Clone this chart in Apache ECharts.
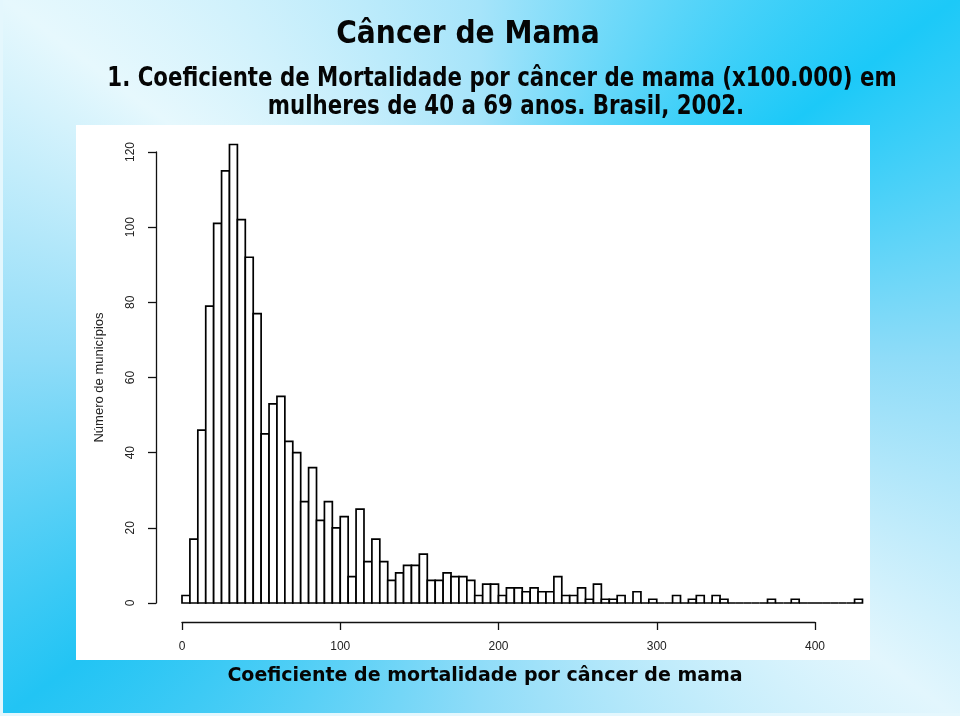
<!DOCTYPE html>
<html>
<head>
<meta charset="utf-8">
<script src="https://cdn.jsdelivr.net/npm/echarts@6/dist/echarts.min.js"></script>
<style>
html,body{margin:0;padding:0;}
#bg{position:absolute;left:0;top:0;width:960px;height:716px;
background:conic-gradient(from 0deg at 50% 50%, #a6e4fa 0deg, #1cc9f8 53deg, #8fdcf8 90deg, #e2f6fd 127deg, #8fdcf8 180deg, #22c4f4 233deg, #8fdcf8 270deg, #e6f8fd 307deg, #a6e4fa 360deg);}
#chart{position:absolute;left:0;top:0;width:960px;height:716px;}
</style>
</head>
<body>
<div id="bg"></div>
<div id="chart"></div>
<script>
// ---- data ----
const binWidth = 5;
const binStarts = [0,5,10,15,20,25,30,35,40,45,50,55,60,65,70,75,80,85,90,95,
  100,105,110,115,120,125,130,135,140,145,150,155,160,165,170,175,180,185,190,195,
  200,205,210,215,220,225,230,235,240,245,250,255,260,265,270,275,280,285,290,295,
  300,305,310,315,320,325,330,335,340,345,350,355,360,365,370,375,380,385,390,395,
  400,405,410,415,420,425];
const counts = [2,17,46,79,101,115,122,102,92,77,
  45,53,55,43,40,27,36,22,27,20,
  23,7,25,11,17,11,6,8,10,10,
  13,6,6,8,7,7,6,2,5,5,
  2,4,4,3,4,3,3,7,2,2,
  4,1,5,1,1,2,0,3,0,1,
  0,0,2,0,1,2,0,2,1,0,
  0,0,0,0,1,0,0,1,0,0,
  0,0,0,0,0,1];
const xTicks = [0,100,200,300,400];
const yTicks = [0,20,40,60,80,100,120];

const titleText = 'Câncer de Mama';
const subtitle1 = '1. Coeficiente de Mortalidade por câncer de mama (x100.000) em';
const subtitle2 = 'mulheres de 40 a 69 anos. Brasil, 2002.';
const xAxisTitle = 'Coeficiente de mortalidade por câncer de mama';
const yAxisTitle = 'Número de municípios';

const chart = echarts.init(document.getElementById('chart'), null, {renderer:'canvas'});
const histData = binStarts.map((s,i)=>[s, s+binWidth, counts[i]]);

const headStyle = (txt, size) => ({
  text: txt, x: 0, y: 0, align: 'center', verticalAlign: 'middle',
  font: 'bold ' + size + 'px "DejaVu Sans", Verdana, sans-serif',
  fill: '#050505', textShadowColor: '#ffffff', textShadowOffsetX: 2, textShadowOffsetY: 2, textShadowBlur: 0
});

chart.setOption({
  animation: false,
  backgroundColor: 'transparent',
  graphic: [
    {type:'rect', z:-10, shape:{x:76,y:125,width:794,height:535}, style:{fill:'#ffffff'}},
    {type:'rect', z:-10, shape:{x:0,y:0,width:3,height:716}, style:{fill:'#e4f7fd'}},
    {type:'rect', z:-10, shape:{x:0,y:713,width:960,height:3}, style:{fill:'#e4f7fd'}},
    {type:'text', x:468, y:35, scaleX:0.88, style: headStyle(titleText, 32)},
    {type:'text', x:502, y:79, scaleX:0.82, style: headStyle(subtitle1, 26)},
    {type:'text', x:506, y:107, scaleX:0.82, style: headStyle(subtitle2, 26)},
    {type:'text', x:485, y:676, scaleX:1, style: headStyle(xAxisTitle, 19)}
  ],
  grid: {left:182, right:145, top:152, bottom:113, outerBoundsMode:'none'},
  xAxis: {
    type:'value', min: xTicks[0], max: xTicks[xTicks.length-1], interval: xTicks[1]-xTicks[0],
    position:'bottom', offset: 19,
    axisLine:{show:true, onZero:false, lineStyle:{color:'#111', width:1.3}},
    axisTick:{show:true, length:8, lineStyle:{color:'#111', width:1.3}},
    axisLabel:{margin:19, color:'#222', fontSize:12, fontFamily:'"Liberation Sans", Arial, sans-serif'},
    splitLine:{show:false}
  },
  yAxis: {
    type:'value', min: yTicks[0], max: yTicks[yTicks.length-1], interval: yTicks[1]-yTicks[0],
    position:'left', offset: 26,
    name: yAxisTitle, nameLocation:'middle', nameRotate:90, nameGap:50,
    nameTextStyle:{color:'#222', fontSize:13, fontFamily:'"Liberation Sans", Arial, sans-serif'},
    axisLine:{show:true, onZero:false, lineStyle:{color:'#111', width:1.3}},
    axisTick:{show:true, length:8, lineStyle:{color:'#111', width:1.3}},
    axisLabel:{rotate:90, margin:19, color:'#222', fontSize:12, fontFamily:'"Liberation Sans", Arial, sans-serif'},
    splitLine:{show:false}
  },
  series: [{
    type:'custom',
    clip:false,
    data: histData,
    encode:{x:[0,1], y:2},
    renderItem: function(params, api){
      const p0 = api.coord([api.value(0), 0]);
      const p1 = api.coord([api.value(1), api.value(2)]);
      return {type:'rect', shape:{x:p0[0], y:p1[1], width:p1[0]-p0[0], height:p0[1]-p1[1]},
        style:{fill:'#ffffff', stroke:'#000000', lineWidth:1.7}};
    }
  }]
});
</script>
</body>
</html>
